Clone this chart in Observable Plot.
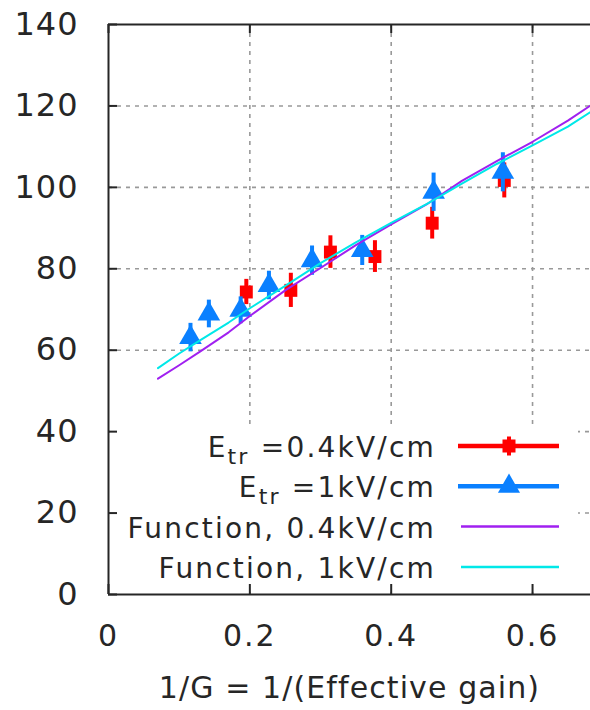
<!DOCTYPE html>
<html>
<head>
<meta charset="utf-8">
<script src="https://cdn.jsdelivr.net/npm/d3@7"></script>
<script src="https://cdn.jsdelivr.net/npm/@observablehq/plot@0.6"></script>
<style>
  html, body { margin: 0; padding: 0; background: #fff; overflow: hidden; }
  #chart { position: relative; width: 590px; height: 710px; }
  #chart text { white-space: pre; }
</style>
</head>
<body>
<div id="chart"></div>
<script>
// Axis ticks
const xTicks = [0, 0.2, 0.4, 0.6];
const yTicks = [0, 20, 40, 60, 80, 100, 120, 140];
const xTitle = "1/G = 1/(Effective gain)";

// Measurements at E_tr = 0.4 kV/cm
const redX   = [0.195, 0.258, 0.314, 0.377, 0.458, 0.560];
const redY   = [74.3, 74.7, 84.1, 83.0, 91.2, 101.7];
const redErr = [3.1, 4.2, 4.0, 3.9, 3.9, 4.3];

// Measurements at E_tr = 1 kV/cm
const blueX   = [0.116, 0.142, 0.187, 0.227, 0.288, 0.359, 0.460, 0.558];
const blueY   = [63.1, 68.9, 69.8, 75.9, 82.0, 84.5, 98.8, 103.7];
const blueErr = [3.5, 3.4, 3.3, 3.5, 3.6, 3.7, 4.7, 4.8];

// Model functions sampled along 1/G
const fnX      = [0.07, 0.10, 0.13, 0.17, 0.20, 0.25, 0.30, 0.35, 0.40, 0.45, 0.50, 0.55, 0.60, 0.65, 0.682];
const fnLow    = [53.0, 56.3, 59.7, 64.4, 68.4, 74.7, 80.2, 85.8, 90.9, 95.8, 101.6, 106.5, 111.2, 116.4, 120.1];
const fnHigh   = [55.6, 59.2, 62.5, 66.8, 70.3, 75.8, 81.4, 86.5, 91.3, 95.9, 100.9, 105.8, 110.3, 114.9, 118.5];

// Legend labels
const legendLabels = [
  ["E", "tr", " =0.4kV/cm"],
  ["E", "tr", " =1kV/cm"],
  ["Function, 0.4kV/cm"],
  ["Function, 1kV/cm"]
];

const ink = "#262626";
const red = "#ff0000", blue = "#0a80ff", purple = "#a020f0", cyan = "#00e8e8";

const redPts  = redX.map((x, i) => ({x, y: redY[i], e: redErr[i]}));
const bluePts = blueX.map((x, i) => ({x, y: blueY[i], e: blueErr[i]}));
const fnPts   = fnX.map((x, i) => ({x, low: fnLow[i], high: fnHigh[i]}));

const gridStyle = {stroke: "#999", strokeOpacity: 1, strokeWidth: 1.6, strokeDasharray: "4,5"};

const chart = Plot.plot({
  width: 590,
  height: 710,
  marginLeft: 108,
  marginRight: 0,
  marginTop: 24,
  marginBottom: 116,
  style: {fontFamily: "'DejaVu Sans', sans-serif", color: ink, background: "#fff", overflow: "visible"},
  x: {domain: [0, 0.682]},
  y: {domain: [0, 140]},
  marks: [
    Plot.gridX(xTicks.filter(v => v > 0), gridStyle),
    Plot.gridY(yTicks.filter(v => v > 0 && v < 140), gridStyle),

    Plot.ruleX(redPts, {x: "x", y1: d => d.y - d.e, y2: d => d.y + d.e, stroke: red, strokeWidth: 4}),
    Plot.dot(redPts, {x: "x", y: "y", symbol: "square", r: 7.3, fill: red, stroke: "none"}),

    Plot.ruleX(bluePts, {x: "x", y1: d => d.y - d.e, y2: d => d.y + d.e, stroke: blue, strokeWidth: 4}),
    Plot.dot(bluePts, {x: "x", y: "y", symbol: "triangle", r: 8.4, fill: blue, stroke: "none"}),

    Plot.line(fnPts, {x: "x", y: "low", stroke: purple, strokeWidth: 2}),
    Plot.line(fnPts, {x: "x", y: "high", stroke: cyan, strokeWidth: 2}),

    // plot border
    Plot.ruleX([0], {stroke: ink, strokeWidth: 2}),
    Plot.ruleY([0, 140], {stroke: ink, strokeWidth: 2}),

    // inward tick marks on left, bottom and top borders
    Plot.ruleY(yTicks, {y: d => d, x1: 0, x2: 0, insetRight: -9, stroke: ink, strokeWidth: 2}),
    Plot.ruleX(xTicks, {x: d => d, y1: 0, y2: 0, insetTop: -10, stroke: ink, strokeWidth: 2}),
    Plot.ruleX(xTicks, {x: d => d, y1: 140, y2: 140, insetBottom: -9, stroke: ink, strokeWidth: 2}),

    Plot.axisY(yTicks, {tickSize: 0, tickPadding: 30, fontSize: 32, label: null, tickFormat: d => String(d)}),
    Plot.axisX(xTicks, {tickSize: 0, tickPadding: 30, fontSize: 30, label: null, tickFormat: d => String(d)}),
    Plot.text([xTitle], {text: d => d, frameAnchor: "bottom", dy: 103, fontSize: 30, fill: ink})
  ]
});

document.getElementById("chart").appendChild(chart);

// Slightly wider letter spacing on the axis texts
d3.select(chart).selectAll('g[aria-label="y-axis tick label"]').attr("letter-spacing", 1);
d3.select(chart).selectAll('g[aria-label="x-axis tick label"]').attr("letter-spacing", 2);
d3.select(chart).selectAll('g[aria-label="text"]').attr("letter-spacing", 1.1);

// Opaque key box drawn above the grid, beneath the border ticks
const key = d3.create("svg:g")
  .attr("font-size", 28)
  .attr("letter-spacing", 2.2)
  .attr("fill", ink);

key.append("rect")
  .attr("x", 110).attr("y", 428)
  .attr("width", 468).attr("height", 164)
  .attr("fill", "#fff");

const rowY0 = 446, rowStep = 40.3;
const textRight = 436;
const sampleX1 = 459, sampleX2 = 559, sampleMid = 509;
const keyColors = [red, blue, purple, cyan];

legendLabels.forEach((parts, i) => {
  const cy = rowY0 + i * rowStep;
  const t = key.append("text")
    .attr("x", textRight)
    .attr("y", cy + 11)
    .attr("text-anchor", "end");
  if (parts.length === 3) {
    t.append("tspan").text(parts[0]);
    t.append("tspan").attr("dy", 7).attr("font-size", 22).text(parts[1]);
    t.append("tspan").attr("dy", -7).text(parts[2]);
  } else {
    t.text(parts[0]);
  }

  const col = keyColors[i];
  const thick = i < 2 ? 4.5 : 2.5;
  key.append("line")
    .attr("x1", i < 2 ? sampleX1 - 1 : sampleX1 + 2).attr("x2", sampleX2)
    .attr("y1", cy).attr("y2", cy)
    .attr("stroke", col).attr("stroke-width", thick);

  if (i === 0) {
    key.append("rect").attr("x", sampleMid - 6.5).attr("y", cy - 6.5)
      .attr("width", 13).attr("height", 13).attr("fill", col);
    key.append("line").attr("x1", sampleMid).attr("x2", sampleMid)
      .attr("y1", cy - 9.5).attr("y2", cy + 9.5)
      .attr("stroke", col).attr("stroke-width", 4);
  } else if (i === 1) {
    key.append("path")
      .attr("d", d3.symbol(d3.symbolTriangle, Math.PI * 8.2 * 8.2)())
      .attr("transform", `translate(${sampleMid},${cy})`)
      .attr("fill", col);
  }
});

const yGrid = chart.querySelector('g[aria-label="y-grid"]');
yGrid.after(key.node());
</script>
</body>
</html>
